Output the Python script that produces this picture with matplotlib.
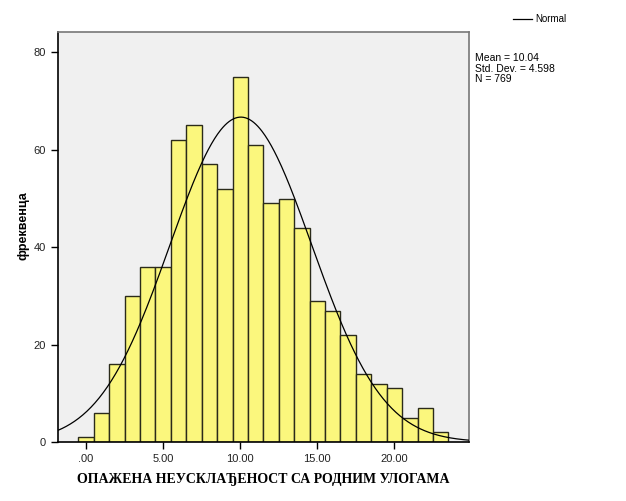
import numpy as np
import matplotlib
matplotlib.use("Agg")
import matplotlib.pyplot as plt

bin_centers = list(range(0, 24))
counts = [1, 6, 16, 30, 36, 36, 62, 65, 57, 52, 75, 61, 49, 50, 44, 29, 27, 22, 14, 12, 11, 5, 7, 2]
mean_val = 10.04
std_val = 4.598
n_val = 769
x_ticks = [0, 5, 10, 15, 20]
x_tick_labels = [".00", "5.00", "10.00", "15.00", "20.00"]
y_ticks = [0, 20, 40, 60, 80]
x_label = "ОПАЖЕНА НЕУСКЛАЂЕНОСТ СА РОДНИМ УЛОГАМА"
y_label = "фреквенца"

plt.rcParams['font.family'] = ['Liberation Sans', 'DejaVu Sans']

fig = plt.figure(figsize=(6.26, 5.01), dpi=100)
ax = fig.add_axes([58/626, 59/501, 411/626, 410/501])
ax.set_facecolor('#f0f0f0')

ax.bar(bin_centers, counts, width=1.0, color='#fbf77d', edgecolor='#2b2b1a', linewidth=1.0, zorder=2)

xs = np.linspace(-1.82, 24.84, 400)
pdf = n_val * 1.0 / (std_val * np.sqrt(2 * np.pi)) * np.exp(-0.5 * ((xs - mean_val) / std_val) ** 2)
ax.plot(xs, pdf, color='black', linewidth=0.9, zorder=3)

ax.set_xlim(-1.82, 24.84)
ax.set_ylim(0, 84.2)
ax.set_xticks(x_ticks)
ax.set_xticklabels(x_tick_labels)
ax.set_yticks(y_ticks)
ax.tick_params(direction='out', length=5, width=1, labelsize=8, color='black', labelcolor='#222222')

for s in ['left', 'bottom']:
    ax.spines[s].set_color('black')
    ax.spines[s].set_linewidth(1.2)
for s in ['top', 'right']:
    ax.spines[s].set_color('#777777')
    ax.spines[s].set_linewidth(1.2)

ax.set_xlabel(x_label, fontfamily=['Liberation Serif'], fontweight='bold', fontsize=10, va='top')
ax.xaxis.set_label_coords(0.5, -0.075)
ax.set_ylabel(y_label, fontweight='bold', fontsize=9, va='center')
ax.yaxis.set_label_coords(-0.085, 0.527)

# legend
fig.lines.append(plt.Line2D([513/626, 532/626], [1 - 19/501, 1 - 19/501], transform=fig.transFigure, color='black', linewidth=0.9))
fig.text(535/626, 1 - 19/501, "Normal", fontsize=7, va='center', ha='left')
fig.text(475/626, 1 - 53/501, "Mean = 10.04\nStd. Dev. = 4.598\nN = 769", fontsize=7.5, va='top', ha='left', linespacing=1.08)

fig.savefig("out.png", dpi=100)
